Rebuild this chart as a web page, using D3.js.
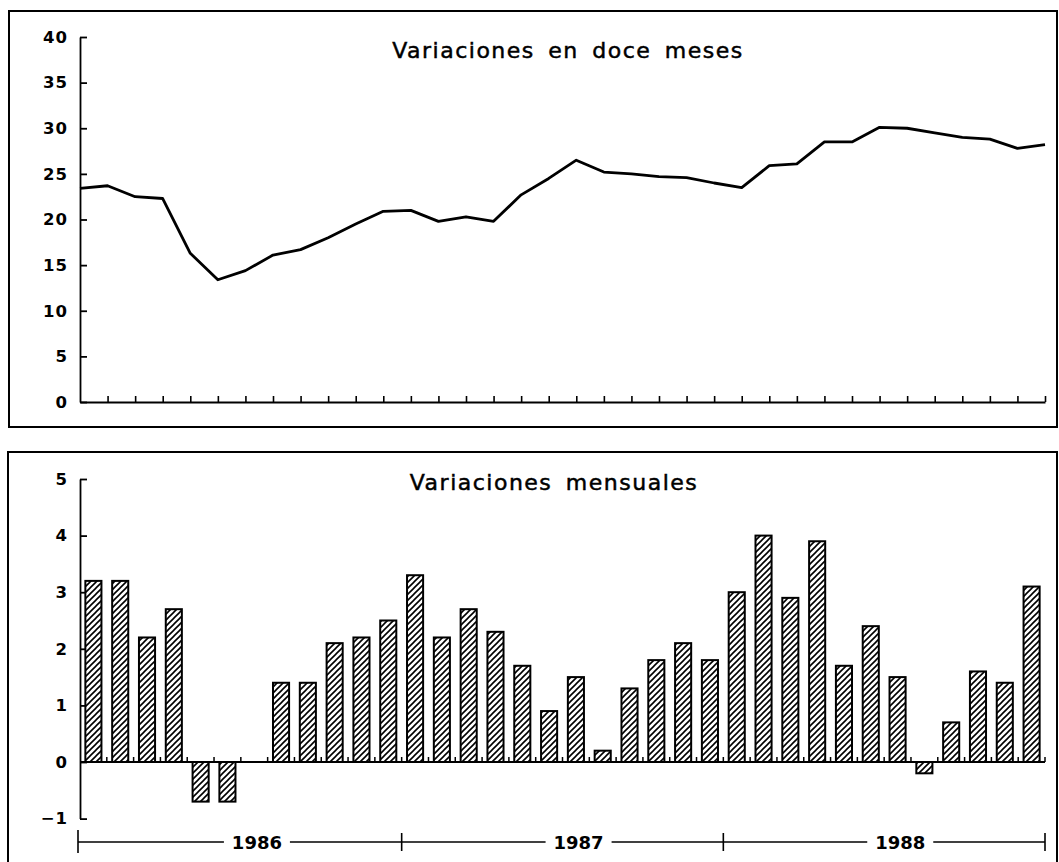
<!DOCTYPE html>
<html>
<head>
<meta charset="utf-8">
<script src="https://cdn.jsdelivr.net/npm/d3@7"></script>
<style>
  html, body { margin: 0; padding: 0; background: #fff; }
  svg { display: block; }
  text { font-family: "DejaVu Sans", sans-serif; fill: #000; }
</style>
</head>
<body>
<svg id="chart" width="1059" height="862"></svg>
<script>
// ---- data ----
const years = ["1986", "1987", "1988"];
const monthNames = ["Ene","Feb","Mar","Abr","May","Jun","Jul","Ago","Sep","Oct","Nov","Dic"];
const months = years.flatMap(y => monthNames.map(m => m + " " + y));

// Variaciones en doce meses (%)
const twelveMonth = [23.4, 23.7, 22.5, 22.3, 16.3, 13.4, 14.4, 16.1, 16.7, 18.0, 19.5, 20.9,
                     21.0, 19.8, 20.3, 19.8, 22.7, 24.5, 26.5, 25.2, 25.0, 24.7, 24.6, 24.0,
                     23.5, 25.9, 26.1, 28.5, 28.5, 30.1, 30.0, 29.5, 29.0, 28.8, 27.8, 28.2];
// Variaciones mensuales (%)
const monthly = [3.2, 3.2, 2.2, 2.7, -0.7, -0.7, 0.0, 1.4, 1.4, 2.1, 2.2, 2.5,
                 3.3, 2.2, 2.7, 2.3, 1.7, 0.9, 1.5, 0.2, 1.3, 1.8, 2.1, 1.8,
                 3.0, 4.0, 2.9, 3.9, 1.7, 2.4, 1.5, -0.2, 0.7, 1.6, 1.4, 3.1];

const topTicks = [0, 5, 10, 15, 20, 25, 30, 35, 40];
const bottomTicks = [-1, 0, 1, 2, 3, 4, 5];
const topTitle = "Variaciones en doce meses";
const bottomTitle = "Variaciones mensuales";

// ---- drawing ----
const svg = d3.select("#chart");
const X0 = 80, X1 = 1045;

// hatch pattern
const defs = svg.append("defs");
const pat = defs.append("pattern")
  .attr("id", "hatch").attr("patternUnits", "userSpaceOnUse")
  .attr("width", 6).attr("height", 6);
pat.append("rect").attr("width", 6).attr("height", 6).attr("fill", "#fff");
pat.append("path")
  .attr("d", "M-1,1 L1,-1 M0,6 L6,0 M5,7 L7,5")
  .attr("stroke", "#000").attr("stroke-width", 1.6);

// panel frames
svg.append("rect").attr("x", 9).attr("y", 11).attr("width", 1048).attr("height", 416)
  .attr("fill", "none").attr("stroke", "#000").attr("stroke-width", 2);
svg.append("rect").attr("x", 8).attr("y", 452).attr("width", 1049).attr("height", 430)
  .attr("fill", "none").attr("stroke", "#000").attr("stroke-width", 2);

// ---------- TOP PANEL ----------
const xp = d3.scalePoint().domain(months).range([X0, X1]).padding(0);
const yt = d3.scaleLinear().domain([0, 40]).range([402, 37]);

const gTop = svg.append("g");
const yAxisT = d3.axisLeft(yt).tickValues(topTicks).tickSizeInner(-7).tickSizeOuter(0).tickPadding(12);
const gyt = gTop.append("g").attr("transform", `translate(${X0},0)`).call(yAxisT);
gyt.select(".domain").attr("stroke", "#000").attr("stroke-width", 1.8);
gyt.selectAll(".tick line").attr("stroke", "#000").attr("stroke-width", 1.8);
gyt.selectAll(".tick text").style("font-size", "16.5px").style("font-weight", "bold")
  .style("letter-spacing", "1px").attr("fill", "#000");

// x axis top
const xAxisT = d3.axisBottom(xp).tickValues(months.slice(1)).tickSizeInner(-6).tickSizeOuter(0).tickFormat("");
const gxt = gTop.append("g").attr("transform", `translate(0,${yt(0)})`).call(xAxisT);
gxt.select(".domain").attr("stroke", "#000").attr("stroke-width", 2);
gxt.selectAll(".tick line").attr("stroke", "#000").attr("stroke-width", 1.6);

// line
const line = d3.line().x((d, i) => xp(months[i])).y(d => yt(d));
gTop.append("path").datum(twelveMonth).attr("d", line)
  .attr("fill", "none").attr("stroke", "#000").attr("stroke-width", 2.8)
  .attr("stroke-linejoin", "round");

gTop.append("text").attr("x", 568).attr("y", 58).attr("text-anchor", "middle")
  .style("font-size", "22px").style("letter-spacing", "1.5px").style("word-spacing", "5px")
  .attr("stroke", "#000").attr("stroke-width", 0.5)
  .text(topTitle);

// ---------- BOTTOM PANEL ----------
const xb = d3.scaleBand().domain(months).range([X0, X1]).paddingInner(0.4).paddingOuter(0.2);
const yb = d3.scaleLinear().domain([-1, 5]).range([818.6, 479]);
const step = xb.step();
const boundary = i => xb(months[i]) - xb.paddingInner() * step / 2;

const gBot = svg.append("g");
const yAxisB = d3.axisLeft(yb).tickValues(bottomTicks).tickSizeInner(-7).tickSizeOuter(0).tickPadding(12)
  .tickFormat(d => d < 0 ? "\u2212" + Math.abs(d) : d);
const gyb = gBot.append("g").attr("transform", `translate(${X0},0)`).call(yAxisB);
gyb.select(".domain").attr("stroke", "#000").attr("stroke-width", 1.8);
gyb.selectAll(".tick line").attr("stroke", "#000").attr("stroke-width", 1.8);
gyb.selectAll(".tick text").style("font-size", "16.5px").style("font-weight", "bold")
  .style("letter-spacing", "1px").attr("fill", "#000");

// bars
gBot.append("g").selectAll("rect").data(monthly.map((v, i) => ({ m: months[i], v })).filter(d => d.v !== 0))
  .join("rect")
  .attr("x", d => xb(d.m))
  .attr("width", xb.bandwidth())
  .attr("y", d => yb(Math.max(0, d.v)))
  .attr("height", d => Math.abs(yb(d.v) - yb(0)))
  .attr("fill", "url(#hatch)").attr("stroke", "#000").attr("stroke-width", 2);

// zero line with ticks at band boundaries
gBot.append("line").attr("x1", X0).attr("x2", X1).attr("y1", yb(0)).attr("y2", yb(0))
  .attr("stroke", "#000").attr("stroke-width", 2);
gBot.append("g").selectAll("line").data(d3.range(1, months.length + 1))
  .join("line")
  .attr("x1", i => i === months.length ? X1 : boundary(i))
  .attr("x2", i => i === months.length ? X1 : boundary(i))
  .attr("y1", yb(0)).attr("y2", yb(0) - 5)
  .attr("stroke", "#000").attr("stroke-width", 1.5);

gBot.append("text").attr("x", 554).attr("y", 490).attr("text-anchor", "middle")
  .style("font-size", "22px").style("letter-spacing", "1.5px").style("word-spacing", "5px")
  .attr("stroke", "#000").attr("stroke-width", 0.5)
  .text(bottomTitle);

// year axis
const yy = 842;
const gYear = svg.append("g");
gYear.append("line").attr("x1", 78).attr("x2", X1).attr("y1", yy).attr("y2", yy)
  .attr("stroke", "#000").attr("stroke-width", 1.4);
const yearBounds = years.map((y, k) => k === 0 ? X0 : boundary(k * 12)).concat([X1]);
gYear.selectAll("line.yt").data(yearBounds).join("line").attr("class", "yt")
  .attr("x1", d => d === X0 ? 78 : d).attr("x2", d => d === X0 ? 78 : d)
  .attr("y1", (d, i) => i === 0 ? 830 : 833).attr("y2", (d, i) => i === 0 ? 853 : 851)
  .attr("stroke", "#000").attr("stroke-width", 1.6);
const yl = gYear.selectAll("g.yl").data(years).join("g").attr("class", "yl")
  .attr("transform", (d, k) => `translate(${yearBounds[k] + 0.55 * (yearBounds[k + 1] - yearBounds[k])},0)`);
yl.append("rect").attr("x", -33).attr("y", yy - 4).attr("width", 66).attr("height", 8).attr("fill", "#fff");
yl.append("text").attr("y", yy + 7).attr("text-anchor", "middle")
  .style("font-size", "18px").style("font-weight", "bold").text(d => d);
</script>
</body>
</html>
